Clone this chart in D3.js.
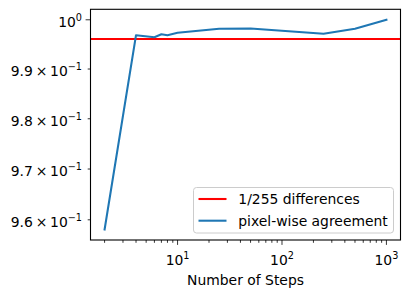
<!DOCTYPE html>
<html lang="en">
<head>
<meta charset="UTF-8" />
<title>Pixel-wise agreement vs steps</title>
<script src="https://cdn.jsdelivr.net/npm/d3@7"></script>
<style>
  html, body { margin: 0; padding: 0; background: #fff; }
  svg { display: block; font-family: "DejaVu Sans", sans-serif; }
</style>
</head>
<body>
<div id="chart"></div>
<script>
// data
const steps     = [2, 4, 6, 7, 8, 10, 25, 50, 250, 500, 1000];
const agreement = [0.9581, 0.99686, 0.99645, 0.99706, 0.99686, 0.99734, 0.99816, 0.99822, 0.99714, 0.99816, 1.0];
const threshold = 1 - 1 / 255;

const yTickValues  = [0.96, 0.97, 0.98, 0.99, 1.0];
const xMajorTicks  = [10, 100, 1000];
const legendLabels = ["1/255 differences", "pixel-wise agreement"];
const xLabel = "Number of Steps";

const width = 409, height = 298;
const box = { left: 90.5, right: 400.5, top: 9.3, bottom: 240 };
const fs = 13.9, supFs = 9.7;

// matplotlib-like 5% margins in log space
function logPad(lo, hi) {
  const a = Math.log10(lo), b = Math.log10(hi), m = (b - a) * 0.05;
  return [Math.pow(10, a - m), Math.pow(10, b + m)];
}

const x = d3.scaleLog()
  .domain(logPad(d3.min(steps), d3.max(steps)))
  .range([box.left, box.right]);
const y = d3.scaleLog()
  .domain(logPad(d3.min(agreement), d3.max(agreement)))
  .range([box.bottom, box.top]);

const svg = d3.select('#chart').append('svg')
  .attr('width', width).attr('height', height)
  .attr('viewBox', [0, 0, width, height]);

svg.append('defs').append('clipPath').attr('id', 'clip')
  .append('rect')
  .attr('x', box.left).attr('y', box.top)
  .attr('width', box.right - box.left).attr('height', box.bottom - box.top);

const plot = svg.append('g').attr('clip-path', 'url(#clip)');

// threshold line
plot.append('line')
  .attr('x1', box.left).attr('x2', box.right)
  .attr('y1', y(threshold)).attr('y2', y(threshold))
  .attr('stroke', '#ff0000').attr('stroke-width', 2.08);

// agreement line
const line = d3.line()
  .x((d, i) => x(steps[i]))
  .y(d => y(d));
plot.append('path')
  .datum(agreement)
  .attr('d', line)
  .attr('fill', 'none')
  .attr('stroke', '#1f77b4')
  .attr('stroke-width', 2.08)
  .attr('stroke-linejoin', 'round')
  .attr('stroke-linecap', 'square');

// x ticks
const [x0, x1] = x.domain();
const xMinor = [];
for (let dec = 1; dec <= 1000; dec *= 10)
  for (let k = 2; k <= 9; k++) {
    const v = k * dec;
    if (v >= x0 && v <= x1) xMinor.push(v);
  }
const ax = svg.append('g').attr('stroke', '#000').attr('stroke-width', 0.8);
ax.selectAll('.xmin').data(xMinor).join('line')
  .attr('x1', d => x(d)).attr('x2', d => x(d))
  .attr('y1', box.bottom).attr('y2', box.bottom + 2.8);
ax.selectAll('.xmaj').data(xMajorTicks).join('line')
  .attr('x1', d => x(d)).attr('x2', d => x(d))
  .attr('y1', box.bottom).attr('y2', box.bottom + 4.9);

const xl = svg.append('g').attr('font-size', fs).attr('fill', '#000');
xl.selectAll('text').data(xMajorTicks).join('text')
  .attr('x', d => x(d)).attr('y', 264.5)
  .attr('text-anchor', 'middle')
  .each(function (d) {
    const t = d3.select(this);
    t.append('tspan').text('10');
    t.append('tspan').attr('dy', -5.7).attr('font-size', supFs)
      .text(String(Math.round(Math.log10(d))));
  });

// y ticks
ax.selectAll('.ytick').data(yTickValues).join('line')
  .attr('x1', box.left).attr('x2', d => box.left - (d === 1 ? 4.9 : 2.8))
  .attr('y1', d => y(d)).attr('y2', d => y(d));

const yl = svg.append('g').attr('font-size', fs).attr('fill', '#000');
yl.selectAll('text').data(yTickValues).join('text')
  .attr('x', 82).attr('y', d => y(d) + 7)
  .attr('text-anchor', 'end')
  .each(function (d) {
    const t = d3.select(this);
    if (d === 1) {
      t.append('tspan').text('10');
      t.append('tspan').attr('dy', -5.7).attr('font-size', supFs).text('0');
    } else {
      t.append('tspan').text((d * 10).toFixed(1) + '\u2009×\u200910');
      t.append('tspan').attr('dy', -5.7).attr('font-size', supFs).text('\u22121');
    }
  });

// frame
svg.append('rect')
  .attr('x', box.left).attr('y', box.top)
  .attr('width', box.right - box.left).attr('height', box.bottom - box.top)
  .attr('fill', 'none').attr('stroke', '#000').attr('stroke-width', 1.1);

// axis label
svg.append('text')
  .attr('x', (box.left + box.right) / 2).attr('y', 285)
  .attr('text-anchor', 'middle').attr('font-size', fs)
  .text(xLabel);

// legend
const lg = svg.append('g');
lg.append('rect')
  .attr('x', 193.5).attr('y', 187.5).attr('width', 200).attr('height', 45.5)
  .attr('rx', 3)
  .attr('fill', '#fff').attr('fill-opacity', 0.8)
  .attr('stroke', '#cccccc').attr('stroke-width', 1);
const legendColors = ['#ff0000', '#1f77b4'];
const rows = lg.selectAll('g.row').data(legendLabels).join('g')
  .attr('transform', (d, i) => `translate(0,${199 + i * 21.7})`);
rows.append('line')
  .attr('x1', 198.5).attr('x2', 226.5)
  .attr('stroke', (d, i) => legendColors[i]).attr('stroke-width', 2.08);
rows.append('text')
  .attr('x', 238.3).attr('y', 5)
  .attr('font-size', fs)
  .text(d => d);
</script>
</body>
</html>
